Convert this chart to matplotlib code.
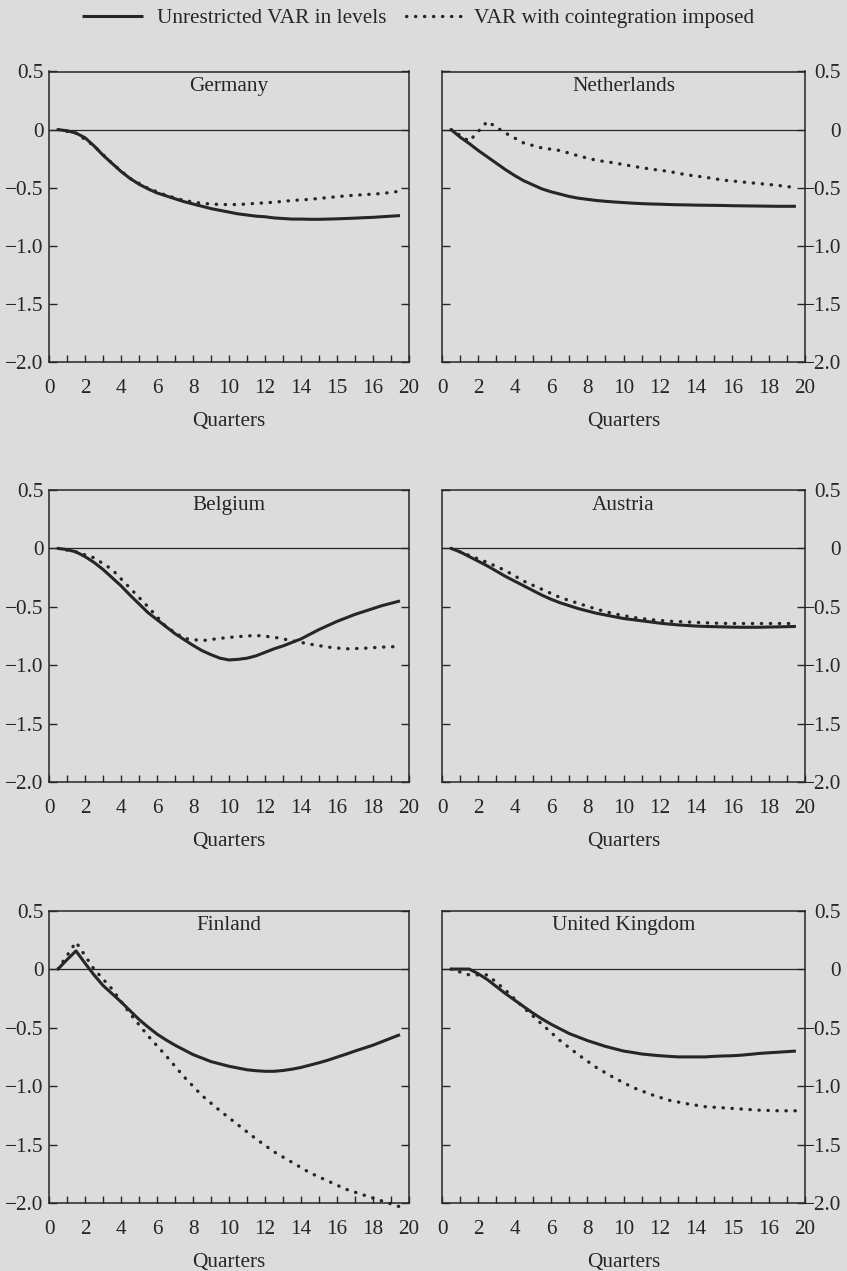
import matplotlib
matplotlib.use("Agg")
import matplotlib.pyplot as plt
import numpy as np
from matplotlib.lines import Line2D
from matplotlib.ticker import MultipleLocator

BG = "#dcdcdc"
INK = "#262626"

plt.rcParams["font.family"] = ["Liberation Serif", "DejaVu Serif"]
plt.rcParams["axes.unicode_minus"] = True
plt.rcParams["text.color"] = INK
plt.rcParams["xtick.color"] = INK
plt.rcParams["ytick.color"] = INK
plt.rcParams["axes.labelcolor"] = INK

# Horizons: the unrestricted responses are traced every half quarter,
# the cointegrated ones every quarter.
half_quarters = np.arange(0.5, 19.75, 0.5)
quarters = np.arange(0.5, 20.0, 1.0)

germany_levels = [0.0, -0.01, -0.03, -0.07, -0.14, -0.22, -0.29, -0.36, -0.42, -0.47,
                  -0.51, -0.545, -0.57, -0.595, -0.62, -0.64, -0.66, -0.68, -0.695, -0.71,
                  -0.725, -0.735, -0.745, -0.75, -0.76, -0.765, -0.77, -0.77, -0.772, -0.772,
                  -0.77, -0.768, -0.765, -0.762, -0.758, -0.755, -0.75, -0.745, -0.74]
germany_coint = [0.0, -0.03, -0.14, -0.29, -0.42, -0.505, -0.565, -0.61, -0.635, -0.645,
                 -0.645, -0.635, -0.625, -0.61, -0.60, -0.585, -0.57, -0.56, -0.55, -0.53]

netherlands_levels = [0.0, -0.065, -0.12, -0.18, -0.235, -0.29, -0.345, -0.395, -0.44, -0.475,
                      -0.51, -0.535, -0.555, -0.575, -0.59, -0.60, -0.61, -0.617, -0.623, -0.628,
                      -0.633, -0.637, -0.64, -0.642, -0.645, -0.647, -0.648, -0.65, -0.651, -0.652,
                      -0.653, -0.655, -0.656, -0.657, -0.658, -0.659, -0.66, -0.66, -0.66]
netherlands_coint = [0.0, -0.10, 0.07, -0.03, -0.115, -0.158, -0.18, -0.225, -0.264, -0.287,
                     -0.315, -0.34, -0.36, -0.39, -0.41, -0.435, -0.45, -0.465, -0.48, -0.50]

belgium_levels = [0.0, -0.01, -0.03, -0.07, -0.12, -0.18, -0.25, -0.32, -0.40, -0.475,
                  -0.55, -0.61, -0.67, -0.73, -0.78, -0.83, -0.875, -0.91, -0.94, -0.955,
                  -0.95, -0.94, -0.92, -0.89, -0.86, -0.835, -0.805, -0.775, -0.735, -0.695,
                  -0.66, -0.625, -0.595, -0.565, -0.54, -0.515, -0.49, -0.47, -0.45]
belgium_coint = [0.0, -0.03, -0.08, -0.18, -0.34, -0.50, -0.67, -0.77, -0.79, -0.77,
                 -0.755, -0.745, -0.76, -0.79, -0.82, -0.845, -0.86, -0.855, -0.845, -0.84]

austria_levels = [0.0, -0.03, -0.07, -0.11, -0.15, -0.195, -0.24, -0.28, -0.32, -0.36,
                  -0.40, -0.435, -0.465, -0.49, -0.515, -0.535, -0.555, -0.57, -0.585, -0.60,
                  -0.61, -0.62, -0.63, -0.64, -0.648, -0.655, -0.66, -0.665, -0.668, -0.67,
                  -0.672, -0.674, -0.675, -0.675, -0.675, -0.673, -0.672, -0.67, -0.668]
austria_coint = [0.0, -0.06, -0.12, -0.19, -0.28, -0.35, -0.42, -0.47, -0.52, -0.56,
                 -0.59, -0.61, -0.623, -0.63, -0.637, -0.642, -0.643, -0.643, -0.643, -0.643]

finland_levels = [0.0, 0.08, 0.155, 0.05, -0.05, -0.14, -0.21, -0.28, -0.355, -0.43,
                  -0.495, -0.555, -0.605, -0.65, -0.69, -0.73, -0.76, -0.79, -0.81, -0.83,
                  -0.845, -0.86, -0.868, -0.873, -0.873, -0.866, -0.855, -0.84, -0.82, -0.80,
                  -0.778, -0.752, -0.727, -0.70, -0.675, -0.65, -0.62, -0.59, -0.56]
finland_coint = [0.0, 0.23, 0.0, -0.17, -0.38, -0.57, -0.74, -0.92, -1.08, -1.21,
                 -1.33, -1.45, -1.56, -1.65, -1.74, -1.81, -1.88, -1.93, -1.98, -2.03]

uk_levels = [0.0, 0.0, 0.0, -0.04, -0.09, -0.15, -0.21, -0.265, -0.32, -0.375,
             -0.425, -0.47, -0.51, -0.55, -0.58, -0.61, -0.635, -0.66, -0.68, -0.70,
             -0.712, -0.725, -0.733, -0.74, -0.745, -0.75, -0.75, -0.75, -0.75, -0.745,
             -0.742, -0.74, -0.735, -0.728, -0.72, -0.715, -0.71, -0.705, -0.70]
uk_coint = [0.0, -0.05, -0.05, -0.18, -0.33, -0.47, -0.61, -0.73, -0.84, -0.93,
            -1.01, -1.07, -1.12, -1.15, -1.175, -1.185, -1.195, -1.205, -1.21, -1.21]

xtick_values = [0, 2, 4, 6, 8, 10, 12, 14, 16, 18, 20]
xtick_labels = ["0", "2", "4", "6", "8", "10", "12", "14", "16", "18", "20"]
xtick_labels_alt = ["0", "2", "4", "6", "8", "10", "12", "14", "15", "16", "20"]
ytick_values = [0.5, 0.0, -0.5, -1.0, -1.5, -2.0]
ytick_labels = ["0.5", "0", "\u22120.5", "\u22121.0", "\u22121.5", "\u22122.0"]

legend_labels = ["Unrestricted VAR in levels", "VAR with cointegration imposed"]

panels = [
    ("Germany", germany_levels, germany_coint, xtick_labels_alt),
    ("Netherlands", netherlands_levels, netherlands_coint, xtick_labels),
    ("Belgium", belgium_levels, belgium_coint, xtick_labels),
    ("Austria", austria_levels, austria_coint, xtick_labels),
    ("Finland", finland_levels, finland_coint, xtick_labels),
    ("United Kingdom", uk_levels, uk_coint, xtick_labels_alt),
]

W, H = 847, 1271
FS = 15.3
LW_CURVE = 2.2
LW_DOTS = 2.4
DOTS = (0, (0.1, 2.6))

fig = plt.figure(figsize=(W / 100, H / 100), dpi=100, facecolor=BG)

cols = [(49, 409), (442, 805)]
rows = [(71.5, 362), (490, 782), (910.5, 1203.3)]


def draw_panel(ax, name, levels, coint, xlabels, right):
    ax.set_facecolor(BG)
    ax.axhline(0, color=INK, lw=0.9, zorder=1)
    ax.plot(half_quarters, levels, color=INK, lw=LW_CURVE, solid_capstyle="butt",
            solid_joinstyle="round", clip_on=False, zorder=3)
    ax.plot(quarters, coint, color=INK, lw=LW_DOTS, linestyle=DOTS,
            dash_capstyle="round", clip_on=False, zorder=3)
    ax.set_xlim(0, 20)
    ax.set_ylim(-2.0, 0.5)
    ax.set_xticks(xtick_values)
    ax.set_xticklabels(xlabels)
    ax.xaxis.set_minor_locator(MultipleLocator(1))
    ax.set_yticks(ytick_values)
    ax.set_yticklabels(ytick_labels)
    ax.tick_params(axis="x", which="both", direction="in", length=5, width=1.0,
                   top=False, bottom=True, pad=12, labelsize=FS)
    ax.tick_params(axis="y", which="both", direction="in", length=5.5, width=1.0,
                   left=True, right=True, labelleft=not right, labelright=right,
                   pad=26 if right else 4, labelsize=FS)
    if right:
        for t in ax.yaxis.get_major_ticks():
            t.label2.set_horizontalalignment("right")
    for sp in ax.spines.values():
        sp.set_linewidth(1.1)
        sp.set_color(INK)
    ax.text(0.5, 0.948, name, transform=ax.transAxes, ha="center", va="center",
            fontsize=FS)
    ax.set_xlabel("Quarters", fontsize=FS, labelpad=10)


for i, (name, levels, coint, xlabels) in enumerate(panels):
    r, c = divmod(i, 2)
    x0, x1 = cols[c]
    top, bot = rows[r]
    ax = fig.add_axes([x0 / W, 1 - bot / H, (x1 - x0) / W, (bot - top) / H])
    draw_panel(ax, name, levels, coint, xlabels, right=(c == 1))

h_solid = Line2D([], [], color=INK, lw=LW_CURVE, solid_capstyle="butt")
h_dots = Line2D([], [], color=INK, lw=LW_DOTS, linestyle=DOTS, dash_capstyle="round")
fig.legend([h_solid], [legend_labels[0]], loc="center left",
           bbox_to_anchor=(82 / W, 1 - 18 / H), frameon=False, fontsize=FS,
           handlelength=2.85, handletextpad=0.7, borderpad=0, borderaxespad=0)
fig.legend([h_dots], [legend_labels[1]], loc="center left",
           bbox_to_anchor=(406 / W, 1 - 18 / H), frameon=False, fontsize=FS,
           handlelength=2.85, handletextpad=0.33, borderpad=0, borderaxespad=0)

fig.savefig("out.png", dpi=100, facecolor=BG)
